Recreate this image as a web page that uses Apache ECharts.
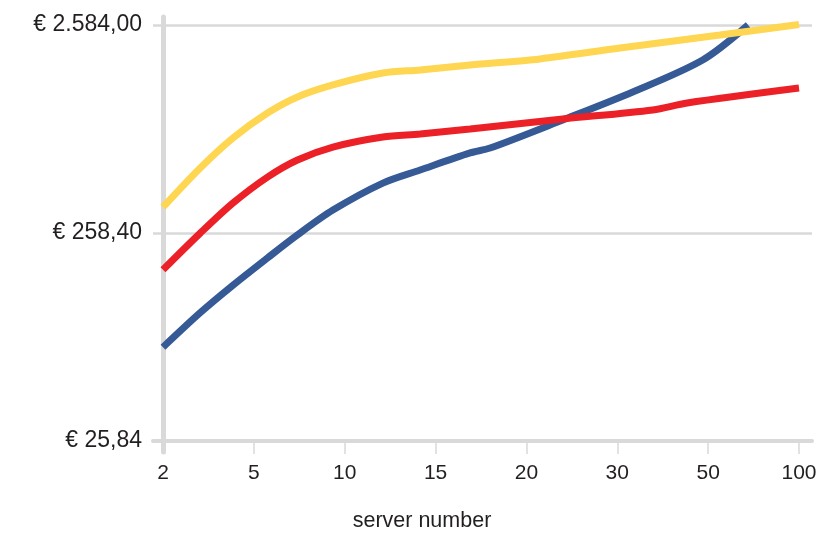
<!DOCTYPE html>
<html><head><meta charset="utf-8">
<script src="https://cdn.jsdelivr.net/npm/echarts@6/dist/echarts.min.js"></script>
<style>html,body{margin:0;padding:0;background:#fff}#c{width:829px;height:551px}</style>
</head><body><div id="c"></div>
<script>
// X axis categories (server number), evenly spaced
const xTickLabels = ['2', '5', '10', '15', '20', '30', '50', '100'];
const xTickPositions = [0, 1, 2, 3, 4, 5, 6, 7];

// Y axis (log) ticks
const yTickValues = [25.84, 258.4, 2584];
const yTickLabels = ['€ 25,84', '€ 258,40', '€ 2.584,00'];

// Series (x in category-index units)
const bluePos  = [0, 0.41, 0.77, 1.15, 1.48, 1.87, 2.42, 2.83, 3.38, 3.60, 4.40, 5.17, 5.94, 6.44];
const blueVals = [73, 107, 145, 196, 253, 333, 449, 519, 627, 662, 903, 1231, 1754, 2584];

const redPos  = [0, 0.41, 0.77, 1.15, 1.48, 1.87, 2.42, 2.83, 3.38, 4.40, 5.39, 5.77, 7];
const redVals = [172, 258, 360, 480, 580, 669, 748, 773, 817, 913, 1009, 1090, 1286];

const yellowPos  = [0, 0.41, 0.77, 1.15, 1.48, 1.87, 2.42, 2.83, 3.38, 4.15, 5.03, 6.13, 7];
const yellowVals = [344, 531, 740, 975, 1165, 1331, 1518, 1571, 1660, 1775, 2003, 2313, 2600];

function pairs(p, v) { return p.map((x, i) => [x, v[i]]); }
function yLabel(v) {
  let best = 0, bd = Infinity;
  yTickValues.forEach((t, i) => { const d = Math.abs(Math.log(v) - Math.log(t)); if (d < bd) { bd = d; best = i; } });
  return yTickLabels[best];
}

const FONT = "'Liberation Sans', Arial, sans-serif";
const TXT = '#231f20';
const AXIS = '#d9d9d9';

const chart = echarts.init(document.getElementById('c'), null, { renderer: 'canvas' });
chart.setOption({
  animation: false,
  backgroundColor: '#ffffff',
  grid: { left: 153, right: 17, top: 17, bottom: 99, containLabel: false },
  xAxis: {
    type: 'value', min: -0.11, max: 7.143, offset: -11,
    axisLine: { onZero: false, lineStyle: { color: AXIS, width: 4 } },
    axisTick: { customValues: xTickPositions, length: 13, lineStyle: { color: AXIS, width: 1.5 } },
    axisLabel: {
      customValues: xTickPositions,
      formatter: v => xTickLabels[Math.round(v)],
      color: TXT, fontSize: 21, fontFamily: FONT, margin: 22
    },
    splitLine: { show: false },
    name: 'server number', nameLocation: 'middle', nameGap: 69,
    nameTextStyle: { color: TXT, fontSize: 21.5, fontFamily: FONT, padding: [0, 121, 0, 0] }
  },
  yAxis: {
    type: 'log', logBase: 10, min: 22.88, max: 2823,
    axisLine: { onZero: true, lineStyle: { color: AXIS, width: 5 } },
    axisTick: { show: false, customValues: yTickValues },
    axisLabel: {
      customValues: yTickValues, formatter: yLabel,
      color: TXT, fontSize: 23, fontFamily: FONT, margin: 11, padding: [0, 0, 7, 0]
    },
    splitLine: { show: true, lineStyle: { color: AXIS, width: 2.5 } }
  },
  series: [
    { name: 'blue', type: 'line', data: pairs(bluePos, blueVals), smooth: 0.3, symbol: 'none',
      lineStyle: { color: '#365a95', width: 7 }, clip: true },
    { name: 'red', type: 'line', data: pairs(redPos, redVals), smooth: 0.3, symbol: 'none',
      lineStyle: { color: '#ec2027', width: 7 }, clip: true },
    { name: 'yellow', type: 'line', data: pairs(yellowPos, yellowVals), smooth: 0.3, symbol: 'none',
      lineStyle: { color: '#fed651', width: 7 }, clip: true }
  ]
});
</script>
</body></html>
